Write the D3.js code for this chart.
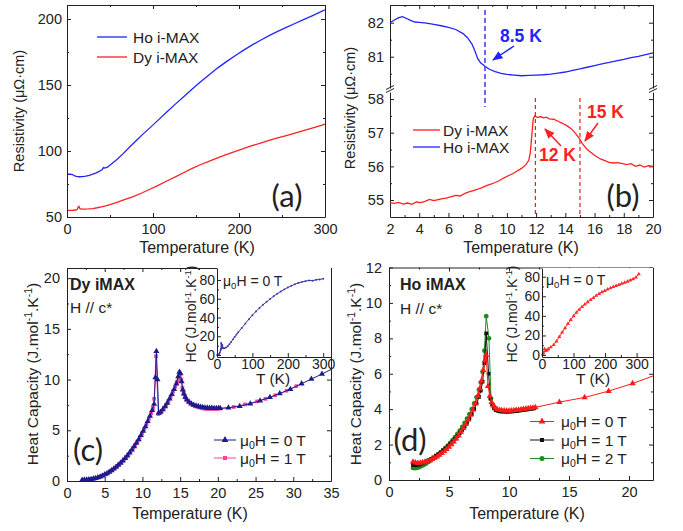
<!DOCTYPE html>
<html><head><meta charset="utf-8">
<script src="https://cdn.jsdelivr.net/npm/d3@7/dist/d3.min.js"></script>
<style>
body{margin:0;background:#fff}
svg{display:block}
</style></head><body>
<svg id="fig" width="683" height="531"></svg>
<script>
// ---------- (a) resistivity 0-300 K ----------
const aHoT = [1,4,7,9,11,14,18,22,26,30,34,38,41,42.5,44,47,52,58,65,72,80,88,97,106,116,126,136,145,155,165,175,185,195,205,215,225,235,245,255,265,275,285,293,300];
const aHo  = [82.4,82.4,82.0,81.1,80.7,80.5,80.6,81.0,81.6,82.4,83.4,84.7,86.0,87.4,87.0,87.7,90.3,93.5,97.8,102.4,107.6,112.6,117.9,123.4,129.6,135.5,141.3,146.6,152.2,157.6,162.8,167.5,172.0,176.2,180.2,183.9,187.4,190.6,193.7,196.6,199.5,202.4,204.8,207.0];
const aDyT = [1,4,7,10,12,13,14,15,17,20,25,30,35,40,45,50,58,66,77,87,97,106,116,126,136,145,155,165,175,185,195,205,215,225,235,245,255,265,275,285,293,300];
const aDy  = [55.0,55.0,55.1,55.3,55.8,57.6,58.0,56.3,56.0,56.0,56.1,56.4,57.0,57.7,58.5,59.4,61.0,62.9,65.4,68.2,71.2,74.0,77.3,80.4,83.7,86.6,89.6,92.2,94.8,97.2,99.6,101.8,104.0,106.0,108.0,109.9,111.7,113.6,115.4,117.3,118.9,120.4];

// ---------- (b) resistivity 2-20 K ----------
const bHoT = [2.0,2.3,2.6,2.85,3.1,3.4,3.7,4.0,4.5,5.0,5.5,6.0,6.5,7.0,7.3,7.6,7.8,8.0,8.2,8.5,8.8,9.2,9.6,10.0,10.5,11.0,11.5,12.0,12.5,13.0,13.5,14.0,14.5,15.0,15.5,16.0,16.5,17.0,17.5,18.0,18.5,19.0,19.5,20.0];
const bHo  = [82.00,82.08,82.15,82.18,82.13,82.07,82.02,82.01,81.99,81.95,81.91,81.86,81.80,81.68,81.56,81.38,81.18,80.95,80.82,80.72,80.63,80.56,80.51,80.48,80.46,80.44,80.45,80.46,80.47,80.49,80.52,80.55,80.60,80.64,80.69,80.74,80.79,80.83,80.88,80.92,80.97,81.01,81.06,81.11];
const bDyT = [2.0,2.3,2.6,2.9,3.2,3.5,3.8,4.1,4.4,4.7,5.0,5.3,5.6,5.9,6.2,6.5,6.8,7.1,7.4,7.7,8.0,8.3,8.6,8.9,9.2,9.5,9.8,10.1,10.4,10.7,11.0,11.3,11.5,11.6,11.7,11.8,11.9,12.1,12.3,12.5,12.7,12.9,13.2,13.5,13.8,14.1,14.4,14.7,15.0,15.2,15.5,15.8,16.1,16.4,16.7,17.0,17.3,17.6,17.9,18.2,18.5,18.8,19.1,19.4,19.7,20.0];
const bDy  = [54.92,54.90,54.93,54.88,54.91,54.87,54.94,54.92,54.96,55.02,54.98,55.01,55.04,55.06,55.10,55.14,55.12,55.19,55.24,55.28,55.32,55.37,55.43,55.47,55.52,55.58,55.66,55.72,55.78,55.86,55.94,56.05,56.18,56.40,56.90,57.40,57.50,57.45,57.48,57.44,57.46,57.41,57.40,57.34,57.28,57.21,57.12,56.98,56.80,56.65,56.50,56.40,56.30,56.22,56.17,56.12,56.10,56.11,56.08,56.05,56.08,56.00,56.04,55.98,56.02,56.00];
const bMarks = [8.5, 11.95, 15];

// ---------- (c) Dy iMAX heat capacity ----------
const c0T_T = [2.0,2.3,2.6,2.9,3.2,3.5,3.8,4.1,4.4,4.7,5.0,5.3,5.6,5.9,6.2,6.5,6.8,7.1,7.4,7.7,8.0,8.3,8.6,8.9,9.2,9.5,9.8,10.1,10.4,10.7,11.0,11.3,11.55,11.72,11.85,12.0,12.15,12.4,12.7,13.0,13.3,13.6,13.9,14.2,14.5,14.75,14.9,15.05,15.2,15.35,15.5,15.7,15.9,16.2,16.5,16.8,17.1,17.4,17.7,18.0,18.3,18.6,18.9,19.2,19.5,19.8,20.1,20.3,21.4,22.9,24.3,25.6,26.9,28.2,29.6,31.1,32.4,33.8,35.3];
const c0T   = [0.10,0.11,0.13,0.15,0.18,0.22,0.28,0.35,0.43,0.52,0.63,0.75,0.89,1.04,1.20,1.38,1.57,1.78,2.00,2.24,2.50,2.78,3.08,3.40,3.74,4.10,4.50,4.92,5.38,5.88,6.40,6.98,7.60,10.2,12.8,10.0,6.7,6.8,7.05,7.35,7.7,8.1,8.55,9.05,9.6,10.3,10.75,10.6,9.8,9.0,8.6,8.25,8.0,7.8,7.62,7.5,7.42,7.36,7.30,7.26,7.23,7.21,7.20,7.19,7.18,7.18,7.17,7.17,7.22,7.38,7.62,7.92,8.25,8.62,9.05,9.6,10.05,10.55,11.1];
const c1T_T = [2.15,2.45,2.75,3.05,3.35,3.65,3.95,4.25,4.55,4.85,5.15,5.45,5.75,6.05,6.35,6.65,6.95,7.25,7.55,7.85,8.15,8.45,8.75,9.05,9.35,9.65,9.95,10.25,10.55,10.85,11.15,11.4,11.55,11.8,12.1,12.3,12.55,12.85,13.15,13.45,13.75,14.05,14.35,14.6,14.8,15.15,15.3,15.45,15.6,15.8,16.05,16.35,16.65,16.95,17.25,17.55,17.85,18.15,18.45,18.75,19.05,19.35,19.65,19.95,20.25,22.1,23.6,25.2,26.3,27.6,29.1,30.4];
const c1T   = [0.10,0.12,0.14,0.16,0.20,0.25,0.31,0.39,0.47,0.57,0.69,0.82,0.96,1.12,1.29,1.48,1.68,1.89,2.12,2.37,2.64,2.93,3.24,3.57,3.92,4.30,4.71,5.15,5.62,6.14,6.68,7.2,8.1,12.3,6.6,6.7,6.9,7.2,7.5,7.9,8.3,8.8,9.3,9.8,10.0,10.0,9.2,8.7,8.4,8.1,7.85,7.65,7.5,7.4,7.3,7.24,7.18,7.14,7.12,7.1,7.1,7.1,7.1,7.12,7.13,7.3,7.55,7.85,8.1,8.45,8.9,9.35];
const cInsT = [0.5,2,4,6,8,10,11,12,13,14,15,16,18,20,25,30,35,40,45,50,55,60,70,80,90,100,110,120,130,140,150,160,170,180,190,200,210,220,230,240,250,260,270,280,290,300];
const cIns  = [0,0.1,0.3,1.2,2.5,4.9,6.4,12.8,7.0,8.6,10.8,8.0,7.3,7.2,7.9,9.4,11.5,14.0,16.7,19.3,21.8,24.2,28.9,33.5,38.2,42.5,46.5,50.2,53.6,56.8,59.8,62.7,65.3,67.7,70.0,72.0,73.9,75.5,76.9,78.0,78.8,79.6,79.3,80.2,80.6,81.4];

// ---------- (d) Ho iMAX heat capacity ----------
const d0T_T = [2.0,2.2,2.4,2.6,2.8,3.0,3.2,3.4,3.6,3.8,4.0,4.2,4.4,4.6,4.8,5.0,5.2,5.4,5.6,5.8,6.0,6.2,6.4,6.6,6.8,7.0,7.2,7.4,7.55,7.7,7.85,8.0,8.1,8.25,8.4,8.55,8.7,8.85,9.0,9.2,9.4,9.6,9.8,10.0,10.2,10.4,10.6,10.8,11.0,11.2,11.4,11.6,11.8,12.0,12.2,14.2,16.3,18.3,20.3,22.3];
const d0T   = [1.03,0.98,0.96,0.97,0.99,1.02,1.06,1.11,1.17,1.24,1.32,1.41,1.51,1.62,1.74,1.87,2.01,2.16,2.33,2.51,2.71,2.92,3.15,3.40,3.67,3.97,4.32,4.75,5.15,5.60,6.20,6.75,7.05,5.30,4.75,4.40,4.20,4.08,4.00,3.95,3.93,3.92,3.91,3.91,3.92,3.93,3.95,3.96,3.98,4.00,4.02,4.04,4.06,4.08,4.10,4.40,4.66,5.02,5.45,5.95];
const d1T_T = [2.0,2.15,2.3,2.5,2.7,2.9,3.1,3.3,3.5,3.7,3.9,4.1,4.3,4.5,4.7,4.9,5.1,5.3,5.5,5.7,5.9,6.1,6.3,6.5,6.7,6.9,7.1,7.3,7.5,7.65,7.8,7.95,8.1,8.3,8.45,8.6,8.75,8.9,9.1,9.3,9.5,9.7,9.9,10.1,10.3,10.5,10.7,10.9,11.1,11.3,11.5,11.7,11.9,12.1];
const d1T   = [0.86,0.84,0.84,0.87,0.92,0.98,1.05,1.12,1.2,1.28,1.37,1.46,1.56,1.67,1.78,1.9,2.03,2.17,2.32,2.48,2.65,2.83,3.02,3.23,3.46,3.72,4.0,4.32,4.7,5.05,5.55,6.6,8.28,6.0,4.6,4.25,4.05,3.95,3.9,3.88,3.87,3.86,3.86,3.87,3.88,3.89,3.91,3.93,3.95,3.97,3.99,4.01,4.03,4.05];
const d2T_T = [2.0,2.15,2.3,2.5,2.7,2.9,3.1,3.3,3.5,3.7,3.9,4.1,4.3,4.5,4.7,4.9,5.1,5.3,5.5,5.7,5.9,6.1,6.3,6.5,6.7,6.9,7.1,7.3,7.5,7.65,7.8,7.95,8.1,8.33,8.5,8.65,8.8,8.95,9.15,9.35,9.55,9.75,9.95,10.15,10.35,10.55,10.75,10.95,11.15,11.35,11.55,11.75,11.95];
const d2T   = [0.68,0.67,0.68,0.72,0.78,0.85,0.93,1.02,1.11,1.21,1.31,1.42,1.54,1.67,1.8,1.94,2.09,2.25,2.42,2.6,2.79,3.0,3.22,3.46,3.72,4.0,4.32,4.68,5.1,5.5,6.1,7.3,9.25,8.0,4.6,4.25,4.05,3.95,3.9,3.88,3.87,3.87,3.87,3.88,3.89,3.9,3.92,3.94,3.96,3.98,4.0,4.02,4.04];
const dInsT = [2,5,8,12,16,20,28,37,46,55,64,73,82,91,100,109,118,127,136,145,154,163,172,181,190,199,208,217,226,235,244,253,262,271,280,289,298,307];
const dIns  = [0.8,1.9,6.0,4.2,5.0,6.2,8.0,10.3,14.0,18.6,23.2,27.6,31.8,35.9,39.8,43.3,46.4,49.2,51.8,54.1,56.4,58.5,60.6,62.5,64.2,65.7,67.1,68.4,69.6,70.7,71.8,72.9,74.0,75.1,76.3,77.7,79.4,82.6];

// ---------- helpers ----------
const FONT = '"Liberation Sans", Arial, sans-serif';
const BIG = 'Lato, "Open Sans", sans-serif';
const INK = '#222';
const TICK = 14.5, TITLE = 16, LEG = 15.5;
const svg = d3.select('#fig');
const zip = (a, b) => a.slice(0, Math.min(a.length, b.length)).map((v, i) => [v, b[i]]);

function styleAxis(g, size) {
  g.attr('font-family', FONT).attr('font-size', size || TICK);
  g.selectAll('.domain').attr('stroke', INK).attr('stroke-width', 1);
  g.selectAll('.tick line').attr('stroke', INK).attr('stroke-width', 1);
  g.selectAll('.tick text').attr('fill', INK);
  return g;
}
// horizontal axis with inward ticks; labels only at the bottom
function xAxis(g, x, yPos, major, minor, top, pad, fs) {
  const mk = top ? d3.axisTop : d3.axisBottom;
  const a = g.append('g').attr('transform', `translate(0,${yPos})`)
    .call(mk(x).tickValues(major).tickSize(-4).tickSizeOuter(0).tickPadding(pad || 6)
      .tickFormat(top ? () => '' : d3.format('~g')));
  styleAxis(a, fs);
  if (minor && minor.length) {
    const m = g.append('g').attr('transform', `translate(0,${yPos})`)
      .call(mk(x).tickValues(minor).tickSize(-2).tickSizeOuter(0).tickFormat(() => ''));
    styleAxis(m); m.select('.domain').remove();
  }
}
function yAxis(g, y, xPos, major, minor, right, pad, fs) {
  const mk = right ? d3.axisRight : d3.axisLeft;
  const a = g.append('g').attr('transform', `translate(${xPos},0)`)
    .call(mk(y).tickValues(major).tickSize(-4).tickSizeOuter(0).tickPadding(pad || 6)
      .tickFormat(right ? () => '' : d3.format('~g')));
  styleAxis(a, fs);
  if (minor && minor.length) {
    const m = g.append('g').attr('transform', `translate(${xPos},0)`)
      .call(mk(y).tickValues(minor).tickSize(-2).tickSizeOuter(0).tickFormat(() => ''));
    styleAxis(m); m.select('.domain').remove();
  }
}
function frame(g, x, y, xt, xm, yt, ym, xpad, ypad) {
  const [x0, x1] = x.range(), [y0, y1] = y.range();
  xAxis(g, x, y0, xt, xm, false, xpad);
  xAxis(g, x, y1, xt, xm, true);
  yAxis(g, y, x0, yt, ym, false, ypad);
  yAxis(g, y, x1, yt, ym, true);
}
function text(g, x, y, str, o = {}) {
  return g.append('text').attr('x', x).attr('y', y).text(str)
    .attr('font-family', o.family || FONT).attr('font-size', o.size || TITLE)
    .attr('font-weight', o.weight || 'normal').attr('fill', o.fill || INK)
    .attr('text-anchor', o.anchor || 'start');
}
// label made of runs: [string, 'sup'|'sub'|'base-from-sup'|'base-from-sub']
function rich(g, x, y, parts, o = {}) {
  const fs = o.size || TITLE;
  const t = g.append('text').attr('x', x).attr('y', y)
    .attr('font-family', FONT).attr('font-size', fs).attr('fill', INK)
    .attr('text-anchor', o.anchor || 'start');
  if (o.rotate) t.attr('transform', `rotate(-90,${x},${y})`);
  parts.forEach(([s, k]) => {
    const ts = t.append('tspan').text(s);
    if (k === 'sup') ts.attr('font-size', fs * 0.68).attr('dy', -fs * 0.38);
    if (k === 'sub') ts.attr('font-size', fs * 0.68).attr('dy', fs * 0.22);
    if (k === 'base-from-sup') ts.attr('dy', fs * 0.38);
    if (k === 'base-from-sub') ts.attr('dy', -fs * 0.22);
  });
  return t;
}
function clip(id, x, y) {
  const [x0, x1] = x.range(), [y0, y1] = y.range();
  svg.append('clipPath').attr('id', id).append('rect')
    .attr('x', x0).attr('y', y1).attr('width', x1 - x0).attr('height', y0 - y1);
  return `url(#${id})`;
}
function curve(g, xs, ys, x, y, color, w) {
  g.append('path').datum(zip(xs, ys))
    .attr('d', d3.line().x(d => x(d[0])).y(d => y(d[1])))
    .attr('fill', 'none').attr('stroke', color).attr('stroke-width', w || 1);
}
function dots(g, xs, ys, x, y, type, size, color) {
  g.append('g').selectAll('path').data(zip(xs, ys)).join('path')
    .attr('transform', d => `translate(${x(d[0])},${y(d[1])})`)
    .attr('d', d3.symbol(type, size)).attr('fill', color);
}
function legendMark(g, x1, x2, yy, color, type, size) {
  g.append('line').attr('x1', x1).attr('x2', x2).attr('y1', yy).attr('y2', yy).attr('stroke', color);
  g.append('path').attr('transform', `translate(${(x1 + x2) / 2},${yy})`)
    .attr('d', d3.symbol(type, size)).attr('fill', color);
}
const HCLABEL = [['Heat Capacity (J.mol'], ['-1', 'sup'], ['.K', 'base-from-sup'], ['-1', 'sup'], [')', 'base-from-sup']];
const HCINS = [['HC (J.mol'], ['-1', 'sup'], ['.K', 'base-from-sup'], ['-1', 'sup'], [')', 'base-from-sup']];
const MU = v => [['μ'], ['0', 'sub'], ['H = ' + v + ' T', 'base-from-sub']];

// ================= panel (a) =================
{
  const g = svg.append('g');
  const x = d3.scaleLinear().domain([0, 300]).range([67, 325]);
  const y = d3.scaleLinear().domain([50, 210.6]).range([217, 5]);
  const p = g.append('g').attr('clip-path', clip('ca', x, y));
  curve(p, aDyT, aDy, x, y, '#ff2020', 1.3);
  curve(p, aHoT, aHo, x, y, '#2323ff', 1.3);
  frame(g, x, y, [0, 100, 200, 300], [50, 150, 250], [50, 100, 150, 200], [75, 125, 175], 7, 5);
  g.append('line').attr('x1', 97).attr('x2', 127).attr('y1', 37).attr('y2', 37).attr('stroke', '#2323ff').attr('stroke-width', 1.3);
  text(g, 133, 42.5, 'Ho i-MAX', { size: LEG });
  g.append('line').attr('x1', 97).attr('x2', 127).attr('y1', 57).attr('y2', 57).attr('stroke', '#ff2020').attr('stroke-width', 1.3);
  text(g, 133, 62.5, 'Dy i-MAX', { size: LEG });
  text(g, 287, 207, '(a)', { size: 31, family: BIG, anchor: 'middle' });
  text(g, 197, 253, 'Temperature (K)', { anchor: 'middle' });
  text(g, 24, 111, 'Resistivity (μΩ·cm)', { anchor: 'middle', size: 14.5 }).attr('transform', 'rotate(-90,24,111)');
}

// ================= panel (b) =================
{
  const g = svg.append('g');
  const x = d3.scaleLinear().domain([2, 20]).range([390, 653]);
  const yU = d3.scaleLinear().domain([80.08, 82.52]).range([88, 5]);
  const yL = d3.scaleLinear().domain([54.495, 58.21]).range([217, 92]);
  const xt = d3.range(2, 21, 2), xm = d3.range(3, 20, 2);
  xAxis(g, x, 217, xt, xm, false, 7);
  xAxis(g, x, 5, xt, xm, true);
  yAxis(g, yU, 390, [81, 82], [80.5, 81.5], false, 6);
  yAxis(g, yL, 390, [55, 56, 57, 58], [55.5, 56.5, 57.5], false, 6);
  yAxis(g, yU, 653, [81, 82], [80.5, 81.5], true);
  yAxis(g, yL, 653, [55, 56, 57, 58], [55.5, 56.5, 57.5], true);
  // axis break marks
  [390, 653].forEach(xx => {
    [[89.5, 85.5], [92.5, 88.5]].forEach(([a, b]) => {
      g.append('line').attr('x1', xx - 4).attr('x2', xx + 4).attr('y1', a).attr('y2', b)
        .attr('stroke', INK).attr('stroke-width', 1);
    });
  });
  curve(g, bDyT, bDy, x, yL, '#ff2020', 1.3);
  curve(g, bHoT, bHo, x, yU, '#2323ff', 1.3);
  // transition markers
  g.append('line').attr('x1', x(bMarks[0])).attr('x2', x(bMarks[0])).attr('y1', 10).attr('y2', 107)
    .attr('stroke', '#3a3aff').attr('stroke-width', 1.5).attr('stroke-dasharray', '5,3');
  [bMarks[1], bMarks[2]].forEach(t => {
    g.append('line').attr('x1', x(t)).attr('x2', x(t)).attr('y1', 98).attr('y2', 217)
      .attr('stroke', '#e02020').attr('stroke-width', 1.2).attr('stroke-dasharray', '4,3');
  });
  const defs = svg.append('defs');
  [['ahB', '#2323ff'], ['ahR', '#ff2020']].forEach(([id, c]) => {
    defs.append('marker').attr('id', id).attr('viewBox', '0 0 10 10').attr('refX', 9).attr('refY', 5)
      .attr('markerWidth', 7).attr('markerHeight', 7).attr('orient', 'auto')
      .append('path').attr('d', 'M0,1 L10,5 L0,9 Z').attr('fill', c);
  });
  const arrow = (x1, y1, x2, y2, c, id) => g.append('line').attr('x1', x1).attr('y1', y1).attr('x2', x2).attr('y2', y2)
    .attr('stroke', c).attr('stroke-width', 1.5).attr('marker-end', `url(#${id})`);
  text(g, 500, 42, '8.5 K', { size: 17.5, weight: 'bold', fill: '#2323ff' });
  arrow(514, 46, 493, 60, '#2323ff', 'ahB');
  text(g, 587, 118, '15 K', { size: 17.5, weight: 'bold', fill: '#ff2020' });
  arrow(598, 123, 585, 141, '#ff2020', 'ahR');
  text(g, 539, 161, '12 K', { size: 17.5, weight: 'bold', fill: '#ff2020' });
  arrow(561, 146, 545, 129, '#ff2020', 'ahR');
  g.append('line').attr('x1', 413).attr('x2', 440).attr('y1', 130).attr('y2', 130).attr('stroke', '#ff2020').attr('stroke-width', 1.3);
  text(g, 443, 135.5, 'Dy i-MAX', { size: LEG });
  g.append('line').attr('x1', 413).attr('x2', 440).attr('y1', 147).attr('y2', 147).attr('stroke', '#2323ff').attr('stroke-width', 1.3);
  text(g, 443, 152.5, 'Ho i-MAX', { size: LEG });
  text(g, 623, 207, '(b)', { size: 31, family: BIG, anchor: 'middle' });
  text(g, 521, 253, 'Temperature (K)', { anchor: 'middle' });
  text(g, 355, 108, 'Resistivity (μΩ·cm)', { anchor: 'middle', size: 14.5 }).attr('transform', 'rotate(-90,355,108)');
}

// ================= panel (c) =================
{
  const g = svg.append('g');
  const x = d3.scaleLinear().domain([0, 35]).range([67, 331]);
  const y = d3.scaleLinear().domain([0, 21]).range([481, 268]);
  const p = g.append('g').attr('clip-path', clip('cc', x, y));
  const NAVY = '#1c1c8e', PINK = '#f2469b';
  curve(p, c1T_T, c1T, x, y, PINK, 1);
  dots(p, c1T_T, c1T, x, y, d3.symbolSquare, 14, PINK);
  curve(p, c0T_T, c0T, x, y, NAVY, 1);
  dots(p, c0T_T, c0T, x, y, d3.symbolTriangle, 16, NAVY);
  frame(g, x, y, d3.range(0, 36, 5), d3.range(2.5, 35, 5), [0, 5, 10, 15, 20], [2.5, 7.5, 12.5, 17.5], 7, 7);
  text(g, 70, 290, 'Dy iMAX', { size: 16, weight: 'bold' });
  text(g, 70, 313, 'H // c*', { size: 15.5 });
  text(g, 88, 461, '(c)', { size: 31, family: BIG, anchor: 'middle' });
  legendMark(g, 214, 236, 440, NAVY, d3.symbolTriangle, 20);
  rich(g, 240, 445.5, MU(0), { size: LEG });
  legendMark(g, 214, 236, 458, PINK, d3.symbolSquare, 16);
  rich(g, 240, 463.5, MU(1), { size: LEG });
  text(g, 190, 519, 'Temperature (K)', { anchor: 'middle' });
  rich(g, 38, 374, HCLABEL, { size: 15.5, anchor: 'middle', rotate: true });
  // inset: 0-300 K
  const xi = d3.scaleLinear().domain([0, 322]).range([217, 331]);
  const yi = d3.scaleLinear().domain([-2.1, 92.8]).range([357, 268]);
  g.append('rect').attr('x', 217).attr('y', 268).attr('width', 114).attr('height', 89).attr('fill', '#fff');
  curve(g, cInsT, cIns, xi, yi, '#3a3aa8', 1);
  dots(g, cInsT, cIns, xi, yi, d3.symbolCircle, 3, '#3a3aa8');
  xAxis(g, xi, 357, [0, 100, 200, 300], [50, 150, 250], false, 2, 14);
  yAxis(g, yi, 217, [0, 20, 40, 60, 80], [10, 30, 50, 70], false, 2, 14);
  rich(g, 223, 286, MU(0), { size: 14 });
  text(g, 273, 384, 'T (K)', { anchor: 'middle', size: 15.5 });
  rich(g, 196, 314, HCINS, { size: 14, anchor: 'middle', rotate: true });
}

// ================= panel (d) =================
{
  const g = svg.append('g');
  const x = d3.scaleLinear().domain([0, 22]).range([389, 653]);
  const y = d3.scaleLinear().domain([0, 12]).range([480, 267.5]);
  const p = g.append('g').attr('clip-path', clip('cd', x, y));
  const GRN = '#1e8c1e', BLK = '#111', RED = '#ff1a1a';
  curve(p, d2T_T, d2T, x, y, GRN, 1);
  dots(p, d2T_T, d2T, x, y, d3.symbolCircle, 18, GRN);
  curve(p, d1T_T, d1T, x, y, BLK, 1);
  dots(p, d1T_T, d1T, x, y, d3.symbolSquare, 14, BLK);
  curve(p, d0T_T, d0T, x, y, RED, 1);
  dots(p, d0T_T, d0T, x, y, d3.symbolTriangle, 17, RED);
  frame(g, x, y, [0, 5, 10, 15, 20], [2.5, 7.5, 12.5, 17.5], d3.range(0, 13, 2), d3.range(1, 12, 2), 7, 7);
  text(g, 400, 290, 'Ho iMAX', { size: 16, weight: 'bold' });
  text(g, 400, 314, 'H // c*', { size: 15.5 });
  text(g, 410, 451, '(d)', { size: 31, family: BIG, anchor: 'middle' });
  const leg = [[RED, d3.symbolTriangle, 20, '0', 421.5], [BLK, d3.symbolSquare, 16, '1', 440], [GRN, d3.symbolCircle, 20, '2', 458.5]];
  leg.forEach(([c, s, sz, v, yy]) => {
    legendMark(g, 530, 554, yy, c, s, sz);
    rich(g, 561, yy + 5.5, MU(v), { size: LEG });
  });
  text(g, 527, 519, 'Temperature (K)', { anchor: 'middle' });
  rich(g, 361, 374, HCLABEL, { size: 15.5, anchor: 'middle', rotate: true });
  // inset: 0-350 K
  const xi = d3.scaleLinear().domain([0, 352]).range([542, 653]);
  const yi = d3.scaleLinear().domain([-2.0, 88.9]).range([357, 268]);
  g.append('rect').attr('x', 542).attr('y', 268).attr('width', 111).attr('height', 89).attr('fill', '#fff');
  curve(g, dInsT, dIns, xi, yi, '#ff2a2a', 1);
  dots(g, dInsT, dIns, xi, yi, d3.symbolTriangle, 7, '#ff2a2a');
  xAxis(g, xi, 357, [0, 100, 200, 300], [50, 150, 250], false, 2, 14);
  yAxis(g, yi, 542, [0, 20, 40, 60, 80], [10, 30, 50, 70], false, 2, 14);
  rich(g, 546, 285, MU(0), { size: 14 });
  text(g, 593, 384, 'T (K)', { anchor: 'middle', size: 15.5 });
  rich(g, 517, 314, HCINS, { size: 14, anchor: 'middle', rotate: true });
}
</script>
</body></html>
